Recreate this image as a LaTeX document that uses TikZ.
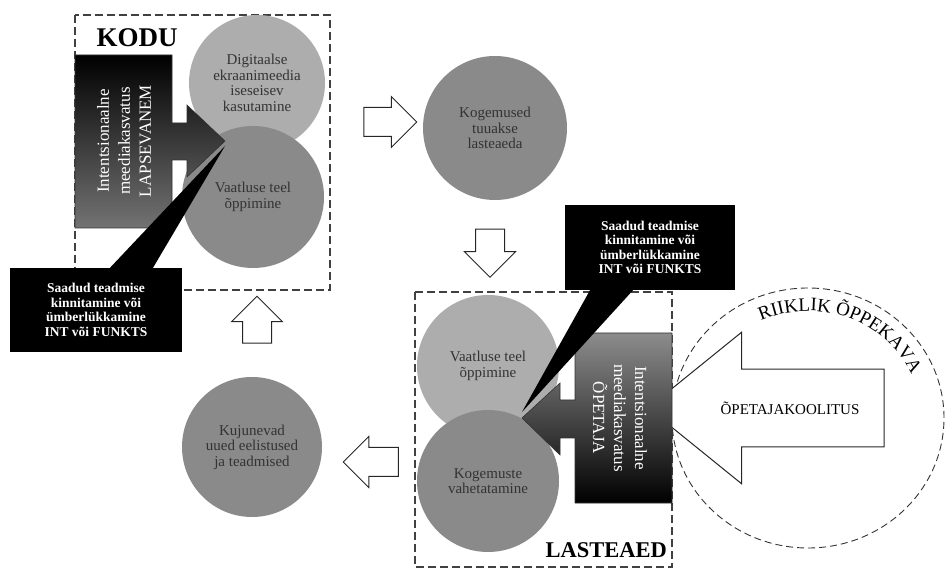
\documentclass[tikz,border=0pt]{standalone}
\usepackage{fontspec}
\setmainfont{Liberation Serif}
\usetikzlibrary{shapes.geometric,shapes.arrows,decorations.text}

\begin{document}
\begin{tikzpicture}[x=1pt, y=-1pt,
  every node/.style={font=\fontsize{15}{15.5}\selectfont},
  zone/.style={draw=black!75, line width=1.2pt, dash pattern=on 8pt off 4pt},
  zonelbl/.style={font=\fontsize{27}{27}\selectfont\bfseries, anchor=base west},
  bubble/.style={circle, inner sep=0pt, align=center, text=black!80},
  bubblelt/.style={bubble, fill=black!32},
  bubbledk/.style={bubble, fill=black!46},
  slab/.style={draw=black!80, line width=0.6pt},
  slabtxt/.style={text=white, align=center, font=\fontsize{17}{21}\selectfont},
  callout/.style={fill=black, text=white, align=center, inner sep=0pt,
                  font=\fontsize{13.5}{14.5}\selectfont\bfseries},
  hollow/.style={single arrow, draw=black!85, fill=white, line width=1pt,
                 inner xsep=0pt, inner ysep=14pt, single arrow head extend=11pt},
  hollowv/.style={hollow, inner xsep=14pt, inner ysep=0pt}]

\useasboundingbox (0,0) rectangle (946,569);

%% ---- zones ----
\draw[zone] (75,15) rectangle (330,290);
\draw[zone] (415,292) rectangle (672,567);
\node[zonelbl] (kodu) at (93,47) {KODU};
\node[zonelbl, font=\fontsize{22.5}{22.5}\selectfont\bfseries] (lasteaed) at (542,557) {LASTEAED};

%% ---- circles ----
\node[bubblelt, minimum size=136] (digi)  at (257,83)  {Digitaalse\\ekraanimeedia\\iseseisev\\kasutamine};
\node[bubbledk, minimum size=142] (vaatk) at (253,197) {Vaatluse teel\\õppimine};
\node[bubbledk, minimum size=144] (tuua)  at (495,128) {Kogemused\\tuuakse\\lasteaeda};
\node[bubblelt, minimum size=142] (vaatl) at (488,366) {Vaatluse teel\\õppimine};
\node[bubbledk, minimum size=142] (vahet) at (488,481) {Kogemuste\\vahetatamine};
\node[bubbledk, minimum size=140] (kuju)  at (252,447) {Kujunevad\\uued eelistused\\ja teadmised};

%% ---- hollow arrows ----
\node[hollow, minimum height=53] (toright) at (383,122) {};
\node[hollowv, shape border rotate=270, minimum height=48] (todown) at (490,246) {};
\node[hollow, shape border rotate=180, minimum height=55] (toleft) at (378,462) {};
\node[hollowv, shape border rotate=90, minimum height=47] (toup) at (257,327) {};

%% ---- national curriculum ----
\node[draw=black!80, line width=0.9pt, dash pattern=on 7pt off 4pt, ellipse,
      minimum width=272, minimum height=260] (riik) at (808,418) {};
\path[decorate, decoration={text along path, text align=center,
      text={|\fontsize{19}{19}\selectfont|RIIKLIK ÕPPEKAVA}}]
  (riik.center) ++(-124:113 and 107) arc[start angle=-124, end angle=-14, x radius=113, y radius=107];
\node[hollow, shape border rotate=180, inner ysep=32pt, single arrow head extend=37pt,
      single arrow tip angle=78, minimum height=236, font=\fontsize{15}{15}\selectfont] (koolitus) at (790,408) {ÕPETAJAKOOLITUS};

%% ---- media education slabs ----
\path[slab, top color=black, bottom color=black!55]
  (75,55) -- (172,55) -- (172,123) -- (187,123) -- (187,105) -- (225,141)
  -- (187,177) -- (187,160) -- (172,160) -- (172,228) -- (75,228) -- cycle;
\node[slabtxt, rotate=90] (lapse) at (124,141) {Intentsionaalne\\meediakasvatus\\LAPSEVANEM};

\path[slab, top color=black!45, bottom color=black]
  (575,333) -- (672,333) -- (672,503) -- (575,503) -- (575,438) -- (560,438)
  -- (560,455) -- (522,418) -- (560,383) -- (560,400) -- (575,400) -- cycle;
\node[slabtxt, rotate=-90] (opet) at (620,418) {Intentsionaalne\\meediakasvatus\\ÕPETAJA};

%% ---- callouts ----
\node[callout, minimum width=172, minimum height=84] (callk) at (96,310)
  {Saadud teadmise\\kinnitamine või\\ümberlükkamine\\INT või FUNKTS};
\coordinate (callktip) at (225,146);
\fill ([xshift=14pt]callk.north) -- (callktip) -- ([xshift=57pt]callk.north) -- cycle;

\node[callout, minimum width=170, minimum height=85] (calll) at (650,247.5)
  {Saadud teadmise\\kinnitamine või\\ümberlükkamine\\INT või FUNKTS};
\coordinate (callltip) at (522,412);
\fill ([xshift=-60pt]calll.south) -- (callltip) -- ([xshift=-17pt]calll.south) -- cycle;
\end{tikzpicture}
\end{document}
